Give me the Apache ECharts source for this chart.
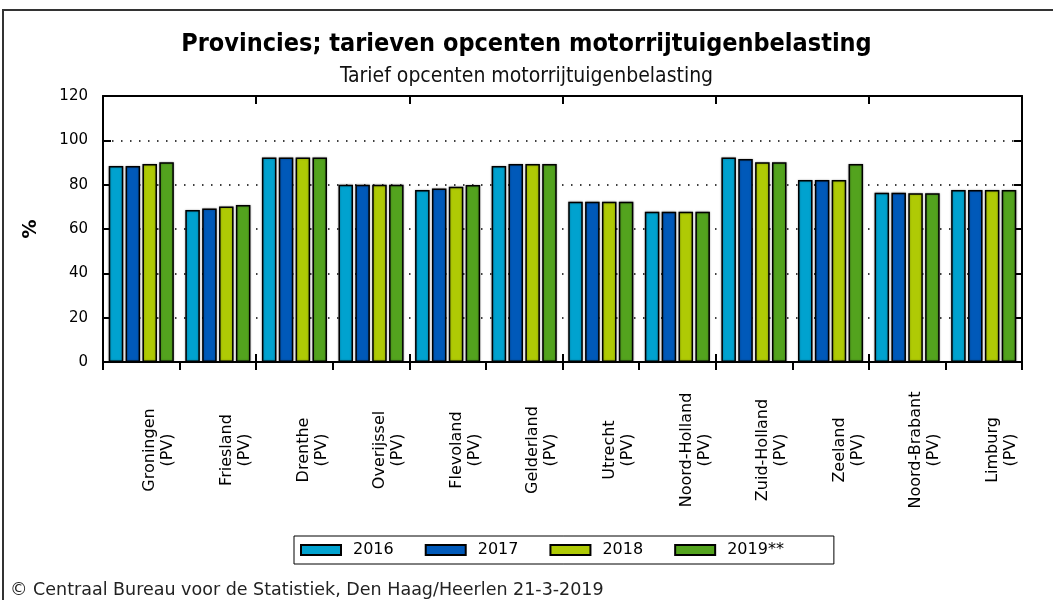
<!DOCTYPE html>
<html>
<head>
<meta charset="utf-8">
<script src="https://cdn.jsdelivr.net/npm/echarts@6/dist/echarts.min.js"></script>
<style>
  html, body { margin: 0; padding: 0; background: #fff; }
  #chart { width: 1053px; height: 600px; }
</style>
</head>
<body>
<div id="chart"></div>
<script>
// provincies (PV)
const provinces = ['Groningen', 'Friesland', 'Drenthe', 'Overijssel', 'Flevoland', 'Gelderland',
  'Utrecht', 'Noord-Holland', 'Zuid-Holland', 'Zeeland', 'Noord-Brabant', 'Limburg'];
const years = ['2016', '2017', '2018', '2019**'];

// tarief opcenten per jaar (%)
const v2016 = [88.4, 68.6, 92.3, 80.0, 77.6, 88.4, 72.3, 67.8, 92.3, 82.1, 76.4, 77.6];
const v2017 = [88.4, 69.2, 92.3, 80.0, 78.3, 89.3, 72.3, 67.8, 91.6, 82.1, 76.4, 77.6];
const v2018 = [89.3, 70.1, 92.3, 80.0, 79.1, 89.3, 72.3, 67.8, 90.1, 82.1, 76.1, 77.6];
const v2019 = [90.1, 70.8, 92.3, 80.0, 79.8, 89.3, 72.3, 67.8, 90.1, 89.3, 76.1, 77.6];
const yTicks = [0, 20, 40, 60, 80, 100, 120];

const colors = ['#00a2cf', '#0059b9', '#afca05', '#53a31e'];
const seriesData = [v2016, v2017, v2018, v2019];
const categories = provinces.map(p => p + '\n(PV)');

const chart = echarts.init(document.getElementById('chart'));
const axisFont = 'DejaVu Sans';
const condFont = '"DejaVu Sans Condensed", "DejaVu Sans"';

chart.setOption({
  animation: false,
  title: [
    {
      text: 'Provincies; tarieven opcenten motorrijtuigenbelasting',
      left: 'center', top: 27,
      textStyle: { fontFamily: condFont, fontWeight: 'bold', fontSize: 25, color: '#000' }
    },
    {
      text: 'Tarief opcenten motorrijtuigenbelasting',
      left: 'center', top: 61,
      textStyle: { fontFamily: condFont, fontWeight: 'normal', fontSize: 21, color: '#111' }
    }
  ],
  grid: { left: 103, right: 31, top: 96, bottom: 238 },
  legend: {
    data: years,
    left: 294, top: 536,
    orient: 'horizontal',
    icon: 'rect',
    borderColor: '#000', borderWidth: 1,
    padding: [6, 50, 6, 6],
    itemWidth: 40, itemHeight: 10, itemGap: 31,
    textStyle: { fontFamily: axisFont, fontSize: 16, color: '#000', padding: [0, 0, 0, 7] }
  },
  xAxis: [
    {
      type: 'category', data: categories, position: 'bottom',
      axisLine: { lineStyle: { color: '#000', width: 2 } },
      axisTick: { show: true, length: 8, lineStyle: { color: '#000', width: 2 } },
      axisLabel: {
        rotate: 90, interval: 0, margin: 88, align: 'center', verticalAlign: 'top',
        fontFamily: axisFont, fontSize: 16, color: '#000', lineHeight: 18
      }
    },
    {
      type: 'category', data: categories, position: 'bottom',
      axisLine: { show: false },
      axisTick: { show: true, inside: true, length: 8, lineStyle: { color: '#000', width: 2 } },
      axisLabel: { show: false }
    },
    {
      type: 'category', data: categories, position: 'top',
      axisLine: { lineStyle: { color: '#000', width: 2 } },
      axisTick: { show: true, inside: true, length: 8, lineStyle: { color: '#000', width: 2 } },
      axisLabel: { show: false }
    }
  ],
  yAxis: [
    {
      type: 'value', min: yTicks[0], max: yTicks[yTicks.length - 1], interval: 20,
      position: 'left',
      name: '%', nameLocation: 'middle', nameGap: 62, nameRotate: 90,
      nameTextStyle: { fontFamily: axisFont, fontWeight: 'bold', fontSize: 19, color: '#000' },
      axisLine: { show: true, lineStyle: { color: '#000', width: 2 } },
      axisTick: { show: true, inside: true, length: 8, lineStyle: { color: '#000', width: 2 } },
      axisLabel: { fontFamily: axisFont, fontSize: 15, color: '#000', margin: 15 },
      splitLine: { show: true, lineStyle: { color: '#000', type: [1.5, 7.5], width: 1.5 } }
    },
    {
      type: 'value', min: yTicks[0], max: yTicks[yTicks.length - 1], interval: 20,
      position: 'right',
      axisLine: { show: true, lineStyle: { color: '#000', width: 2 } },
      axisTick: { show: true, inside: true, length: 8, lineStyle: { color: '#000', width: 2 } },
      axisLabel: { show: false },
      splitLine: { show: false }
    }
  ],
  series: years.map((y, i) => ({
    name: y,
    type: 'bar',
    xAxisIndex: 0, yAxisIndex: 0,
    data: seriesData[i],
    barGap: '16%',
    barCategoryGap: '15%',
    itemStyle: {
      color: colors[i], borderColor: '#000', borderWidth: 1.5,
      shadowColor: 'rgba(0,0,0,0.35)', shadowBlur: 2
    }
  })),
  graphic: [
    {
      type: 'rect', silent: true,
      shape: { x: 3, y: 10, width: 1070, height: 620 },
      style: { fill: 'none', stroke: '#333', lineWidth: 2 }
    },
    {
      type: 'text', left: 10, top: 581,
      style: {
        text: '\u00a9 Centraal Bureau voor de Statistiek, Den Haag/Heerlen 21-3-2019',
        font: '17.5px "DejaVu Sans"', fill: '#222'
      }
    }
  ]
});
</script>
</body>
</html>
